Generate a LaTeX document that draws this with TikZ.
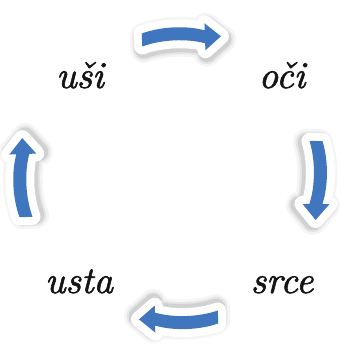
\documentclass[tikz,border=0pt]{standalone}
\usepackage{fontspec}
\newfontfamily\wordfont{lmroman10-italic.otf}[FakeBold=1.5]
\definecolor{arrowblue}{RGB}{64,118,190}
\tikzset{
  word/.style={font=\wordfont\fontsize{38}{46}\selectfont, anchor=base, inner sep=0pt, text=black!92},
  shade1/.style={draw=black, fill=black, opacity=0.04, line width=27pt, line join=round},
  shade2/.style={draw=black, fill=black, opacity=0.06, line width=22pt, line join=round},
  shade3/.style={draw=black, fill=black, opacity=0.09, line width=18pt, line join=round},
  outline/.style={draw=white, fill=white, line width=16pt, line join=round},
  band/.style={fill=arrowblue, draw=none}
}
\newcommand\cyclearrow[2]{%
  \begin{scope}[shift={#1}, rotate=#2]
    \foreach \st in {shade1,shade2,shade3}{
      \path[\st, shift={(1.5,-3)}] (0,-6.5) .. controls (20,0) and (45,0) .. (63,-5.5) -- (63,-12.5) -- (79,1) -- (63,14.5) -- (63,7.5) .. controls (45,13) and (20,13) .. (0,6.5) -- cycle;
    }
    \path[outline] (0,-6.5) .. controls (20,0) and (45,0) .. (63,-5.5) -- (63,-12.5) -- (79,1) -- (63,14.5) -- (63,7.5) .. controls (45,13) and (20,13) .. (0,6.5) -- cycle;
    \path[band] (0,-6.5) .. controls (20,0) and (45,0) .. (63,-5.5) -- (63,-12.5) -- (79,1) -- (63,14.5) -- (63,7.5) .. controls (45,13) and (20,13) .. (0,6.5) -- cycle;
  \end{scope}%
}
\begin{document}
\begin{tikzpicture}[x=1pt, y=1pt]
  \useasboundingbox[fill=white] (0,0) rectangle (351,352);
  \cyclearrow{(142,312)}{2}
  \cyclearrow{(316,211)}{-91}
  \cyclearrow{(218,35)}{181}
  \cyclearrow{(26,135)}{92}
  \node[word] (usi)  at (80,264)  {uši};
  \node[word] (oci)  at (282,264) {oči};
  \node[word] (usta) at (79,59)   {usta};
  \node[word] (srce) at (282,59)  {srce};
\end{tikzpicture}
\end{document}
